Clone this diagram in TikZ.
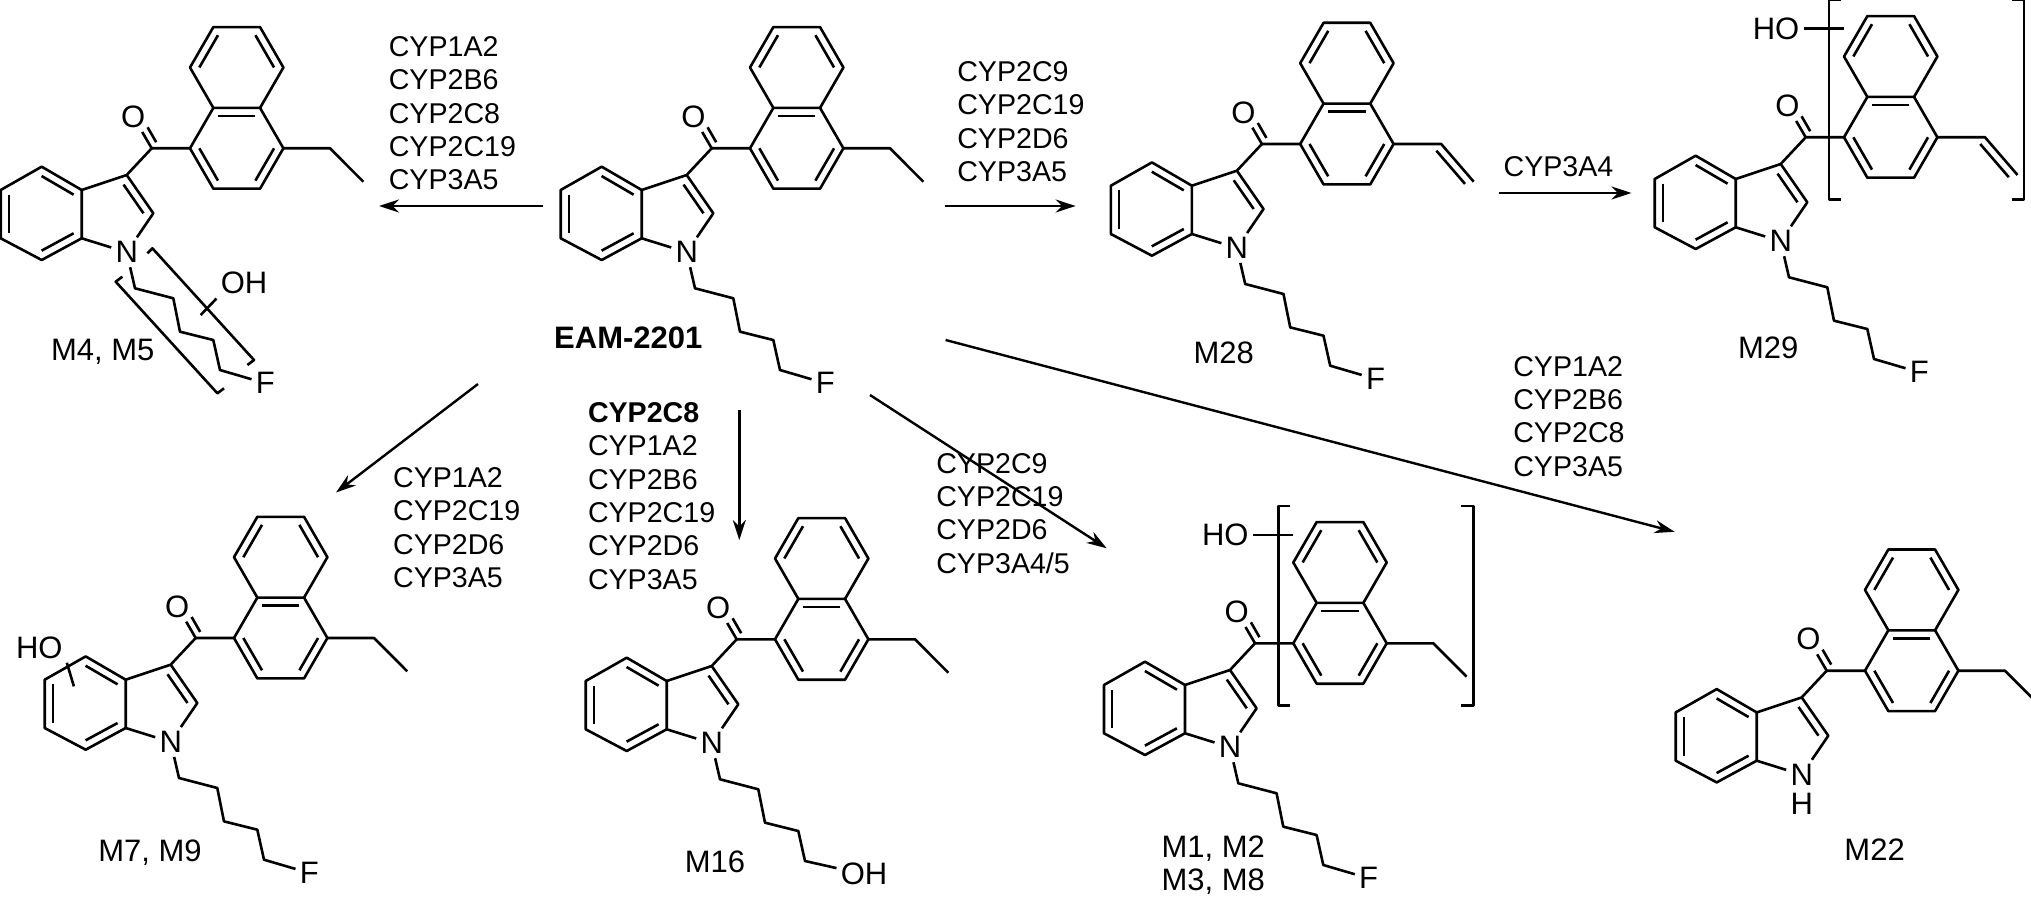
\documentclass[tikz,border=0pt]{standalone}
\usepackage{fontspec}
\setmainfont{Liberation Sans}
\usetikzlibrary{arrows.meta,calc}

\tikzset{
  atom/.style={font={\fontsize{15.5}{18}\selectfont}, inner sep=1.5pt},
  cyp/.style={font={\fontsize{14.3}{16.7}\selectfont}, align=left, anchor=west, inner sep=0pt},
  mname/.style={font={\fontsize{15.5}{16.7}\selectfont}, align=center, inner sep=0pt},
  rxn/.style={line width=1.2pt, -{Stealth[length=10pt,width=6.5pt]}}
}

\newcommand{\dbond}[4][0.2]{\draw ($(#2)!#1!(#4)$) -- ($(#3)!#1!(#4)$);}

\newcommand{\indolecore}{%
  \coordinate (c1) at (0,0);
  \coordinate (c2) at (23.35,40.4);
  \coordinate (c3) at (70.05,40.4);
  \coordinate (c4) at (93.4,0);
  \coordinate (c4a) at (70.05,-40.4);
  \coordinate (c8a) at (23.35,-40.4);
  \coordinate (c5) at (93.4,-80.8);
  \coordinate (c6) at (70.05,-121.2);
  \coordinate (c7) at (23.35,-121.2);
  \coordinate (c8) at (0,-80.8);
  \coordinate (ra) at (46.7,0);
  \coordinate (rb) at (46.7,-80.8);
  \draw (c1) -- (c2) -- (c3) -- (c4) -- (c4a) -- (c8a) -- cycle;
  \draw (c8a) -- (c8) -- (c7) -- (c6) -- (c5) -- (c4a);
  \dbond{c1}{c2}{ra} \dbond{c3}{c4}{ra} \dbond{c4a}{c8a}{ra}
  \dbond{c8}{c7}{rb} \dbond{c6}{c5}{rb}
  \coordinate (co) at (-38.3,0);
  \node[atom] (o) at (-56.7,-31.6) {O};
  \draw (c1) -- (co) -- (o);
  \draw (-33.8,-6.1) -- (-42.4,-21);
  \coordinate (i3) at (-63.3,26.7);
  \coordinate (i2) at (-36.7,65);
  \node[atom] (n) at (-63.3,104) {N};
  \coordinate (i3a) at (-108.3,41.7);
  \coordinate (i4) at (-148.3,18.4);
  \coordinate (i5) at (-189.3,41.7);
  \coordinate (i6) at (-189.3,90);
  \coordinate (i7) at (-148.3,111.7);
  \coordinate (i7a) at (-108.3,90);
  \coordinate (rc) at (-148.8,65);
  \coordinate (rp) at (-76,65);
  \draw (co) -- (i3) -- (i2) -- (n) -- (i7a) -- (i3a) -- (i3);
  \draw (i3a) -- (i4) -- (i5) -- (i6) -- (i7) -- (i7a);
  \dbond{i3a}{i4}{rc} \dbond{i5}{i6}{rc} \dbond{i7}{i7a}{rc}
  \dbond[0.25]{i3}{i2}{rp}}

\newcommand{\ethyl}{%
  \coordinate (e1) at (140,0);
  \coordinate (e2) at (173.3,33.4);
  \draw (c4) -- (e1) -- (e2);}

\newcommand{\vinyl}{%
  \coordinate (e1) at (141,0);
  \coordinate (e2) at (173.5,37.7);
  \draw (c4) -- (e1) -- (e2);
  \draw (136.2,6.7) -- (164.8,39.9);}

\newcommand{\pentyl}[1]{%
  \coordinate (k1) at (-55,140);
  \coordinate (k2) at (-16.7,150);
  \coordinate (k3) at (-10,183.4);
  \coordinate (k4) at (23.3,191.7);
  \coordinate (k5) at (30,221.7);
  \node[atom,anchor=west] (tail) at (61.5,235) {#1};
  \draw (n) -- (k1) -- (k2) -- (k3) -- (k4) -- (k5) -- (tail);}

\newcommand{\bracketoh}{%
  \draw (-3,-137.5) -- (-15,-137.5) -- (-15,62) -- (-3,62);
  \draw (168,-137.5) -- (180,-137.5) -- (180,62) -- (168,62);
  \node[atom] (ho) at (-68,-108.5) {HO};
  \coordinate (hoend) at (0,-108.5);
  \draw (ho) -- (hoend);}

\begin{document}
\begin{tikzpicture}[x=0.5pt,y=-0.5pt,line width=1.3pt,line join=round]
\useasboundingbox (0,0) rectangle (2031,899);

\begin{scope}[shift={(750,148.3)}]
  \indolecore \ethyl \pentyl{F}
\end{scope}
\node[mname] (eam) at (628.3,338.3) {\textbf{EAM-2201}};

\begin{scope}[shift={(190,148.3)}]
  \indolecore \ethyl \pentyl{F}
  \draw (-67.6,128.4) -- (-74.3,133.4) -- (27.4,245) -- (34,240);
  \draw (-42.6,105) -- (-37.6,100) -- (64,211.7) -- (57.4,216.7);
  \node[atom] (oh) at (54,135) {OH};
  \coordinate (ohb) at (10.7,166.7);
  \draw (ohb) -- (oh.south west);
\end{scope}
\node[mname] (m4) at (102.7,351.7) {M4, M5};

\begin{scope}[shift={(1300.2,144)}]
  \indolecore \vinyl \pentyl{F}
\end{scope}
\node[mname] (m28) at (1223.7,353.3) {M28};

\begin{scope}[shift={(1844,137.3)}]
  \indolecore \vinyl \pentyl{F} \bracketoh
\end{scope}
\node[mname] (m29) at (1768.3,348.3) {M29};

\begin{scope}[shift={(234,638)}]
  \indolecore \ethyl \pentyl{F}
  \node[atom] (ho) at (-194.7,9.5) {HO};
  \coordinate (hoend) at (-160.1,48.4);
  \draw (ho.south east) -- (hoend);
\end{scope}
\node[mname] (m7) at (150,853) {M7, M9};

\begin{scope}[shift={(775,639.3)}]
  \indolecore \ethyl \pentyl{OH}
\end{scope}
\node[mname] (m16) at (715,861.7) {M16};

\begin{scope}[shift={(1293.3,643.3)}]
  \indolecore \ethyl \pentyl{F} \bracketoh
\end{scope}
\node[mname] (m1) at (1213.3,865) {M1, M2\\M3, M8};

\begin{scope}[shift={(1865,670.7)}]
  \indolecore \ethyl
  \node[atom] (h) at (-63.3,133) {H};
\end{scope}
\node[mname] (m22) at (1874.6,850) {M22};

\coordinate (a1s) at (543,206);   \coordinate (a1e) at (379,206);
\coordinate (a2s) at (945,206);   \coordinate (a2e) at (1075.6,206);
\coordinate (a3s) at (1499,193);  \coordinate (a3e) at (1631.5,193);
\coordinate (a4s) at (478,384);   \coordinate (a4e) at (336,492.5);
\coordinate (a5s) at (739.3,410); \coordinate (a5e) at (739.3,540);
\coordinate (a6s) at (870,395);   \coordinate (a6e) at (1106.7,548.3);
\coordinate (a7s) at (945.6,340); \coordinate (a7e) at (1674.6,531.8);
\foreach \a in {1,...,7} \draw[rxn] (a\a s) -- (a\a e);

\node[cyp] (t1) at (387.5,113.3) {CYP1A2\\CYP2B6\\CYP2C8\\CYP2C19\\CYP3A5};
\node[cyp] (t2) at (956,121.7) {CYP2C9\\CYP2C19\\CYP2D6\\CYP3A5};
\node[cyp,anchor=center] (t3) at (1558.5,166.7) {CYP3A4};
\node[cyp] (t4) at (391.8,527.7) {CYP1A2\\CYP2C19\\CYP2D6\\CYP3A5};
\node[cyp] (t5) at (586.7,495.9) {\textbf{CYP2C8}\\CYP1A2\\CYP2B6\\CYP2C19\\CYP2D6\\CYP3A5};
\node[cyp] (t6) at (935,513.3) {CYP2C9\\CYP2C19\\CYP2D6\\CYP3A4/5};
\node[cyp] (t7) at (1512,416.4) {CYP1A2\\CYP2B6\\CYP2C8\\CYP3A5};
\end{tikzpicture}
\end{document}
